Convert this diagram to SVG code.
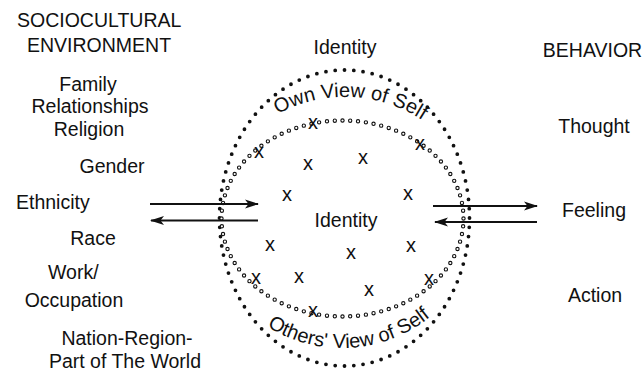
<svg xmlns="http://www.w3.org/2000/svg" width="644" height="376" viewBox="0 0 644 376">
<style>
text{font-family:"Liberation Sans",Arial,sans-serif;fill:#111;}
.t{font-size:19.5px;}
.x{font-size:20px;text-anchor:middle;}
.m{text-anchor:middle;}
.arc{font-size:20px;text-anchor:middle;}
.ln{stroke:#111;stroke-width:2;fill:none;}
</style>
<defs>
<marker id="ah" viewBox="0 0 14 10" refX="13" refY="5" markerWidth="14" markerHeight="10" markerUnits="userSpaceOnUse" orient="auto">
<path d="M0,0.5 L14,5 L0,9.5 L3.5,5 Z" fill="#111"/>
</marker>
<path id="topArc" d="M 226.8,162 A 140,140 0 0 1 469.1,172.1"/>
<path id="botArc" d="M 225.1,285.1 A 140,140 0 0 0 467.2,270.7"/>
</defs>
<rect width="644" height="376" fill="#fff"/>
<g id="rings">
<ellipse cx="344.5" cy="218" rx="125" ry="148" fill="none" stroke="#111" stroke-width="3.8" stroke-linecap="round" stroke-dasharray="0 1" pathLength="92"/>
<ellipse cx="342.5" cy="218.5" rx="121" ry="98" fill="none" stroke="#111" stroke-width="4.4" stroke-linecap="round" stroke-dasharray="0 1" pathLength="88"/>
<ellipse cx="342.5" cy="218.5" rx="121" ry="98" fill="none" stroke="#fff" stroke-width="2.2" stroke-linecap="round" stroke-dasharray="0 1" pathLength="88"/>
</g>
<g id="left-node">
<text class="t" x="17" y="27">SOCIOCULTURAL</text>
<text class="t" x="27" y="52">ENVIRONMENT</text>
<text class="t m" x="88" y="91">Family</text>
<text class="t m" x="90" y="113">Relationships</text>
<text class="t m" x="89" y="136">Religion</text>
<text class="t m" x="112" y="173">Gender</text>
<text class="t" x="16" y="209">Ethnicity</text>
<text class="t m" x="93" y="245">Race</text>
<text class="t" x="48" y="279">Work/</text>
<text class="t m" x="74" y="307">Occupation</text>
<text class="t m" x="127" y="345">Nation-Region-</text>
<text class="t m" x="125" y="368">Part of The World</text>
</g>
<g id="identity-node">
<text class="t m" x="345" y="54">Identity</text>
<text class="t m" x="346" y="227">Identity</text>
<text class="arc"><textPath href="#topArc" startOffset="50%">Own View of Self</textPath></text>
<text class="arc"><textPath href="#botArc" startOffset="50%">Others' View of Self</textPath></text>
<text class="x" x="313" y="129">x</text>
<text class="x" x="259" y="158">x</text>
<text class="x" x="308" y="170">x</text>
<text class="x" x="363" y="164">x</text>
<text class="x" x="420" y="150">x</text>
<text class="x" x="287" y="201">x</text>
<text class="x" x="408" y="200">x</text>
<text class="x" x="270" y="251">x</text>
<text class="x" x="351" y="259">x</text>
<text class="x" x="411" y="252">x</text>
<text class="x" x="256" y="284">x</text>
<text class="x" x="299" y="283">x</text>
<text class="x" x="369" y="296">x</text>
<text class="x" x="429" y="285">x</text>
<text class="x" x="313" y="317">x</text>
</g>
<g id="right-node">
<text class="t m" x="592.5" y="57">BEHAVIOR</text>
<text class="t m" x="594" y="133">Thought</text>
<text class="t m" x="594" y="217">Feeling</text>
<text class="t m" x="595" y="302">Action</text>
</g>
<g id="connectors">
<line class="ln" x1="150" y1="204" x2="258" y2="204" marker-end="url(#ah)"/>
<line class="ln" x1="258" y1="220.5" x2="151" y2="220.5" marker-end="url(#ah)"/>
<line class="ln" x1="433" y1="206" x2="537" y2="206" marker-end="url(#ah)"/>
<line class="ln" x1="537" y1="222" x2="435" y2="222" marker-end="url(#ah)"/>
</g>
</svg>
